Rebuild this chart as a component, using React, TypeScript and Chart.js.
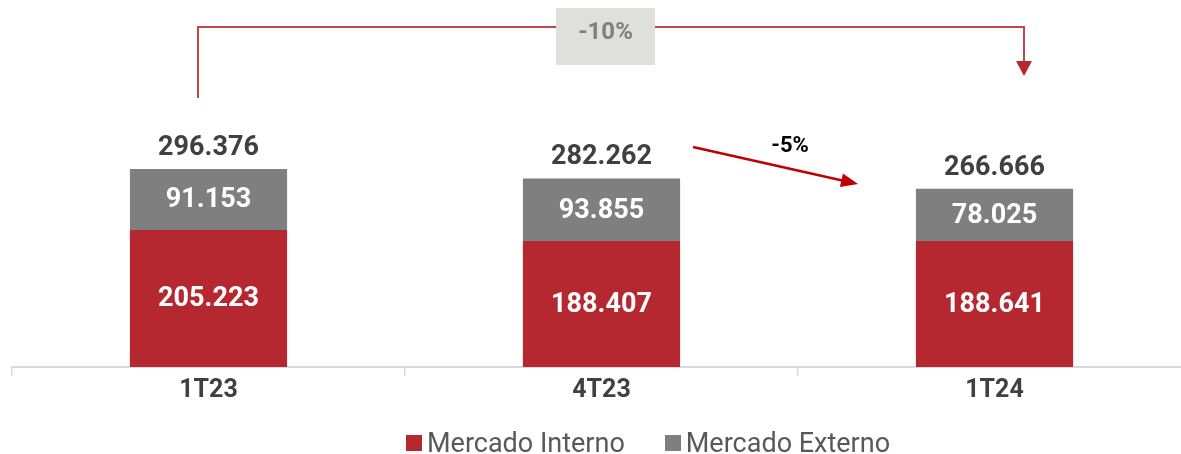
import React, { useEffect, useRef } from 'react';
import { Chart, registerables } from 'chart.js';

Chart.register(...registerables);

const categories = ['1T23', '4T23', '1T24'];
const mercadoInterno = [205.223, 188.407, 188.641];
const mercadoExterno = [91.153, 93.855, 78.025];
const seriesNames = ['Mercado Interno', 'Mercado Externo'];
const seriesColors = ['#B5282F', '#7F7F7F'];
const variationTotal = '-10%';
const variationQuarter = '-5%';

const fmt = (v: number) => v.toFixed(3);

const labelPlugin = {
  id: 'valueLabels',
  afterDatasetsDraw(chart: any) {
    const { ctx, chartArea } = chart;
    const xs = chart.scales.x;
    const ys = chart.scales.y;
    ctx.save();
    ctx.textAlign = 'center';
    ctx.textBaseline = 'middle';

    // segment values
    ctx.font = 'bold 27px Roboto';
    chart.data.datasets.forEach((ds: any, di: number) => {
      const meta = chart.getDatasetMeta(di);
      meta.data.forEach((bar: any, i: number) => {
        const p = bar.getProps(['x', 'y', 'base'], true);
        ctx.fillStyle = '#FFFFFF';
        ctx.fillText(fmt(ds.data[i]), p.x, (p.y + p.base) / 2 + 1);
      });
    });

    // totals
    categories.forEach((_c, i) => {
      const total = mercadoInterno[i] + mercadoExterno[i];
      ctx.fillStyle = '#404040';
      ctx.fillText(fmt(total), xs.getPixelForValue(i), ys.getPixelForValue(total) - 21);
    });

    const top = chartArea.top;
    const c0 = xs.getPixelForValue(0);
    const c1 = xs.getPixelForValue(1);
    const c2 = xs.getPixelForValue(2);

    // bracket 1T23 -> 1T24
    const bx0 = c0 - 10.5;
    const bx1 = c2 + 29.5;
    const byStart = top + 98;
    const byTop = top + 27;
    const byTip = top + 76;
    ctx.strokeStyle = '#C4454B';
    ctx.lineWidth = 2;
    ctx.beginPath();
    ctx.moveTo(bx0, byStart);
    ctx.lineTo(bx0, byTop);
    ctx.lineTo(bx1, byTop);
    ctx.lineTo(bx1, byTip - 12);
    ctx.stroke();
    ctx.fillStyle = '#B5282F';
    ctx.beginPath();
    ctx.moveTo(bx1, byTip);
    ctx.lineTo(bx1 - 8, byTip - 15);
    ctx.lineTo(bx1 + 8, byTip - 15);
    ctx.closePath();
    ctx.fill();

    // -10% box
    const boxCx = c1 + 4;
    ctx.fillStyle = '#DFE0DE';
    ctx.fillRect(boxCx - 49.5, top + 8, 99, 57);
    ctx.fillStyle = '#7F7F7F';
    ctx.font = 'bold 24px Roboto';
    ctx.fillText(variationTotal, boxCx, top + 33);

    // -5% arrow 4T23 -> 1T24
    const ax0 = c1 + 91.5;
    const ay0 = top + 147;
    const ax1 = c2 - 136.5;
    const ay1 = top + 184;
    const ang = Math.atan2(ay1 - ay0, ax1 - ax0);
    const headLen = 17;
    const headHalf = 7;
    ctx.strokeStyle = '#C00000';
    ctx.fillStyle = '#C00000';
    ctx.lineWidth = 2.5;
    ctx.beginPath();
    ctx.moveTo(ax0, ay0);
    ctx.lineTo(ax1 - Math.cos(ang) * (headLen - 2), ay1 - Math.sin(ang) * (headLen - 2));
    ctx.stroke();
    const bxh = ax1 - Math.cos(ang) * headLen;
    const byh = ay1 - Math.sin(ang) * headLen;
    ctx.beginPath();
    ctx.moveTo(ax1, ay1);
    ctx.lineTo(bxh + Math.sin(ang) * headHalf, byh - Math.cos(ang) * headHalf);
    ctx.lineTo(bxh - Math.sin(ang) * headHalf, byh + Math.cos(ang) * headHalf);
    ctx.closePath();
    ctx.fill();
    ctx.fillStyle = '#000000';
    ctx.font = 'bold 22px Roboto';
    ctx.fillText(variationQuarter, c1 + 188.5, top + 146);

    ctx.restore();
  },
};

export default function App() {
  const canvasRef = useRef<HTMLCanvasElement | null>(null);

  useEffect(() => {
    if (!canvasRef.current) return;
    const chart = new Chart(canvasRef.current, {
      type: 'bar',
      data: {
        labels: categories,
        datasets: [
          {
            label: seriesNames[0],
            data: mercadoInterno,
            backgroundColor: seriesColors[0],
            categoryPercentage: 1,
            barPercentage: 0.4,
          },
          {
            label: seriesNames[1],
            data: mercadoExterno,
            backgroundColor: seriesColors[1],
            categoryPercentage: 1,
            barPercentage: 0.4,
          },
        ],
      },
      options: {
        responsive: false,
        animation: false,
        events: [],
        layout: { padding: { left: 12, right: 9, top: 0, bottom: 48 } },
        plugins: {
          legend: { display: false },
          tooltip: { enabled: false },
        },
        scales: {
          x: {
            stacked: true,
            offset: true,
            grid: {
              display: true,
              drawOnChartArea: false,
              drawTicks: true,
              tickLength: 9,
              color: '#D9D9D9',
              lineWidth: 1.5,
            },
            border: { display: true, color: '#D9D9D9', width: 2 },
            ticks: {
              padding: 0,
              color: '#404040',
              font: { family: 'Roboto', size: 25, weight: 'bold' },
            },
          },
          y: {
            stacked: true,
            display: false,
            min: 0,
            max: 549.3,
          },
        },
      },
      plugins: [labelPlugin],
    });
    return () => chart.destroy();
  }, []);

  return (
    <div
      style={{
        position: 'fixed',
        left: 0,
        top: 0,
        width: 1181,
        height: 454,
        overflow: 'hidden',
        background: '#FFFFFF',
      }}
    >
      <canvas
        ref={canvasRef}
        width={1200}
        height={454}
        style={{ position: 'absolute', left: 0, top: 0, width: 1200, height: 454 }}
      />
      <div
        style={{
          position: 'absolute',
          left: 406,
          top: 427,
          display: 'flex',
          alignItems: 'center',
          fontFamily: 'Roboto',
          fontSize: 27,
          lineHeight: '32px',
          color: '#595959',
          whiteSpace: 'nowrap',
        }}
      >
        {seriesNames.map((name, i) => (
          <div
            key={name}
            style={{ display: 'flex', alignItems: 'center', marginRight: i === 0 ? 40 : 0 }}
          >
            <span
              style={{
                display: 'inline-block',
                width: 16,
                height: 16,
                background: seriesColors[i],
                marginRight: 5,
              }}
            />
            <span>{name}</span>
          </div>
        ))}
      </div>
    </div>
  );
}
